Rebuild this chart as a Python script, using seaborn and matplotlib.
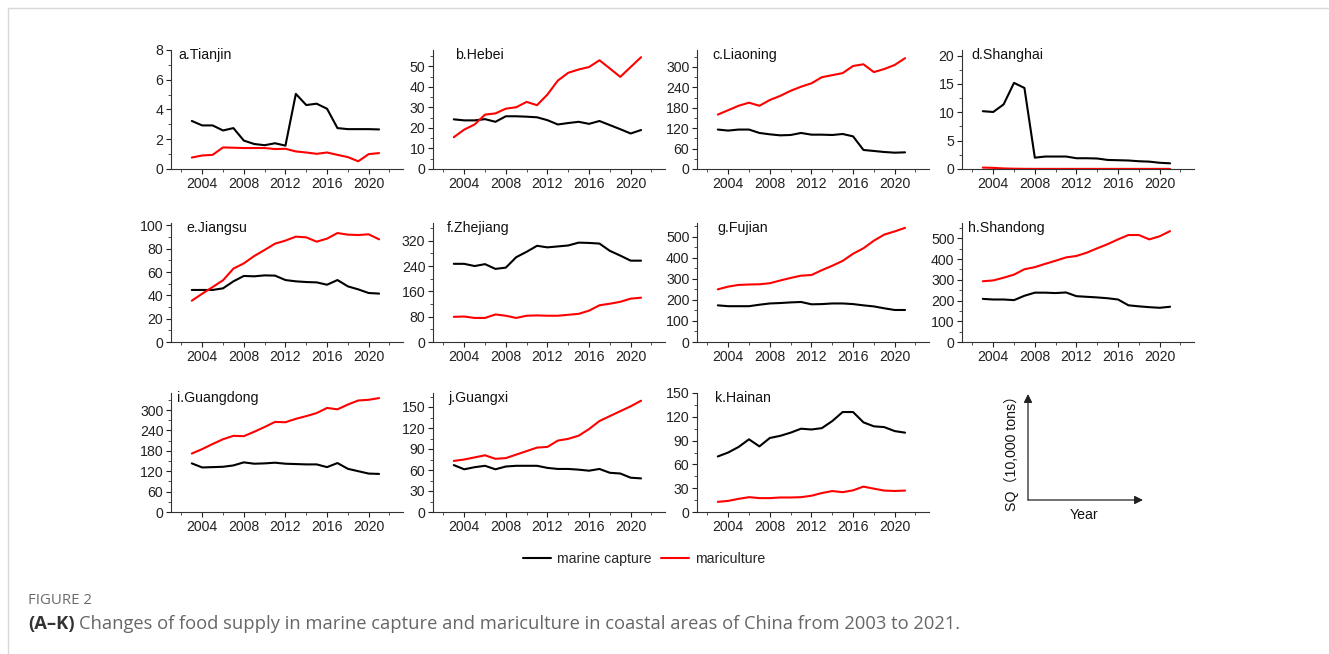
import numpy as np
import pandas as pd
import matplotlib
matplotlib.use("Agg")
import matplotlib.pyplot as plt
from matplotlib.lines import Line2D
import seaborn as sns

years = list(range(2003, 2022))

tianjin_cap = [3.23, 2.93, 2.93, 2.59, 2.75, 1.91, 1.68, 1.60, 1.73, 1.57, 5.05, 4.30, 4.39, 4.05, 2.75, 2.68, 2.68, 2.68, 2.66]
tianjin_mar = [0.77, 0.91, 0.95, 1.45, 1.43, 1.41, 1.41, 1.41, 1.34, 1.36, 1.18, 1.11, 1.02, 1.11, 0.95, 0.80, 0.52, 1.00, 1.07]
hebei_cap = [24.2, 23.7, 23.7, 24.3, 23.0, 25.7, 25.7, 25.5, 25.2, 23.8, 21.7, 22.4, 23.0, 22.0, 23.4, 21.4, 19.4, 17.3, 19.0]
hebei_mar = [15.5, 19.2, 21.7, 26.5, 27.1, 29.4, 30.1, 32.7, 31.1, 36.3, 43.1, 46.9, 48.5, 49.7, 53.0, 49.0, 44.9, 49.7, 54.5]
liaoning_cap = [116, 113, 116, 116, 106, 102, 99, 100, 106, 101, 101, 100, 103, 96, 56, 53, 50, 48, 49]
liaoning_mar = [160, 173, 186, 195, 186, 203, 215, 230, 242, 252, 270, 276, 282, 303, 308, 285, 294, 306, 326]
shanghai_cap = [10.2, 10.06, 11.4, 15.2, 14.3, 2.0, 2.2, 2.2, 2.2, 1.9, 1.9, 1.85, 1.6, 1.55, 1.5, 1.37, 1.3, 1.1, 1.0]
shanghai_mar = [0.25, 0.2, 0.1, 0.05, 0.03, 0.02, 0.02, 0.02, 0.02, 0.02, 0.02, 0.02, 0.02, 0.02, 0.02, 0.02, 0.02, 0.02, 0.02]
jiangsu_cap = [44.6, 44.6, 44.6, 46.0, 52.0, 56.6, 56.3, 57.1, 56.9, 53.1, 52.0, 51.4, 51.1, 49.1, 53.1, 47.7, 45.1, 42.0, 41.5]
jiangsu_mar = [35.4, 41.4, 47.1, 52.9, 62.9, 67.4, 73.7, 78.9, 84.3, 86.9, 90.3, 89.7, 86.0, 88.6, 93.4, 92.0, 91.7, 92.3, 88.0]
zhejiang_cap = [247, 247, 240, 246, 231, 235, 268, 285, 304, 299, 302, 305, 314, 313, 311, 288, 273, 257, 257]
zhejiang_mar = [79.5, 80.5, 76, 76, 87, 83, 76, 83, 84, 83, 83, 86, 89, 99, 116, 121, 127, 137, 140]
fujian_cap = [174, 170, 170, 170, 177, 183, 185, 188, 190, 179, 180, 183, 183, 180, 174, 169, 160, 152, 152]
fujian_mar = [250, 263, 271, 273, 274, 279, 292, 304, 315, 318, 341, 362, 385, 419, 445, 481, 510, 525, 542]
shandong_cap = [208, 205, 205, 202, 223, 238, 238, 236, 239, 221, 218, 215, 211, 205, 177, 172, 168, 165, 170]
shandong_mar = [293, 297, 310, 325, 351, 361, 377, 392, 408, 415, 431, 452, 472, 495, 516, 516, 495, 510, 535]
guangdong_cap = [143, 131, 132, 133, 137, 146, 142, 143, 145, 142, 141, 140, 140, 132, 144, 127, 120, 113, 112]
guangdong_mar = [172, 185, 200, 214, 224, 223, 236, 250, 265, 264, 274, 282, 291, 306, 302, 316, 328, 330, 335]
guangxi_cap = [67, 61, 64, 66, 61, 65, 66, 66, 66, 63, 61.5, 61.5, 60.5, 59, 61.5, 56, 55, 49, 48]
guangxi_mar = [73, 75, 78, 81, 76, 77, 82, 87, 92, 93, 102, 104.5, 109, 118.5, 130, 137, 144, 151, 159]
hainan_cap = [70, 75, 82, 91.6, 82.7, 93.3, 96, 100, 105, 104, 105.7, 114.6, 126, 126, 113, 108, 107, 102, 100]
hainan_mar = [12.8, 14, 16.6, 18.7, 17.5, 17.5, 18.3, 18.3, 18.7, 20.5, 23.9, 26.4, 25, 27.3, 32, 29.4, 27, 26.5, 27]

panel_titles = ["a.Tianjin", "b.Hebei", "c.Liaoning", "d.Shanghai", "e.Jiangsu", "f.Zhejiang",
                "g.Fujian", "h.Shandong", "i.Guangdong", "j.Guangxi", "k.Hainan"]
capture = [tianjin_cap, hebei_cap, liaoning_cap, shanghai_cap, jiangsu_cap, zhejiang_cap,
           fujian_cap, shandong_cap, guangdong_cap, guangxi_cap, hainan_cap]
mariculture = [tianjin_mar, hebei_mar, liaoning_mar, shanghai_mar, jiangsu_mar, zhejiang_mar,
               fujian_mar, shandong_mar, guangdong_mar, guangxi_mar, hainan_mar]
y_tops = [8, 58, 350, 21, 102, 376, 565, 574, 350, 170, 150]
y_steps = [2, 10, 60, 5, 20, 80, 100, 100, 60, 30, 30]
series_names = ["marine capture", "mariculture"]
x_ticks = [2004, 2008, 2012, 2016, 2020]
title_x = [0.03, 0.095, 0.065, 0.04, 0.065, 0.06, 0.086, 0.026, 0.026, 0.065, 0.077]

sns.set_style("ticks")
plt.rcParams["font.family"] = ["Liberation Sans", "Noto Sans CJK SC", "DejaVu Sans"]

W, H = 1329, 654
fig = plt.figure(figsize=(W / 100, H / 100), dpi=100)
fig.patch.set_facecolor("white")

col_left = [171, 433, 697, 962]
row_bottom = [169, 342, 512]
ax_w, ax_h = 232, 119
FS = 10.2
palette = {"marine capture": "black", "mariculture": "#ff0000"}

for i, title in enumerate(panel_titles):
    r, c = divmod(i, 4)
    ax = fig.add_axes([col_left[c] / W, 1 - row_bottom[r] / H, ax_w / W, ax_h / H])
    df = pd.DataFrame({
        "year": years * 2,
        "value": capture[i] + mariculture[i],
        "series": [series_names[0]] * len(years) + [series_names[1]] * len(years),
    })
    sns.lineplot(data=df, x="year", y="value", hue="series", palette=palette,
                 ax=ax, legend=False, linewidth=1.5)
    ax.set_xlim(2001, 2023.3)
    ax.set_ylim(0, y_tops[i])
    ax.set_xticks(x_ticks)
    ax.set_xticks(np.arange(2002, 2024, 2), minor=True)
    st = y_steps[i]
    ax.set_yticks(np.arange(0, y_tops[i] + 0.001, st))
    ax.set_yticks(np.arange(0, y_tops[i] + 0.001, st / 2), minor=True)
    ax.set_xlabel("")
    ax.set_ylabel("")
    for s in ["top", "right"]:
        ax.spines[s].set_visible(False)
    for s in ["left", "bottom"]:
        ax.spines[s].set_linewidth(0.8)
        ax.spines[s].set_color("#333333")
    ax.tick_params(which="major", length=3.5, width=0.8, labelsize=FS, colors="#222222", pad=2)
    ax.tick_params(which="minor", length=2, width=0.6, colors="#333333")
    ax.set_facecolor("none")
    ax.text(title_x[i], 0.96, title, transform=ax.transAxes, ha="left", va="center",
            fontsize=FS, color="#111111")

# legend
handles = [Line2D([0], [0], color="black", lw=1.5), Line2D([0], [0], color="#ff0000", lw=1.5)]
fig.legend(handles, series_names, loc="center", bbox_to_anchor=(644 / W, 1 - 559 / H),
           ncol=2, frameon=False, fontsize=FS, handlelength=2.0, handletextpad=0.4,
           columnspacing=0.7)

# schematic axes (SQ vs Year)
ox, oy = 1028, 500
fig.add_artist(matplotlib.patches.FancyArrowPatch((ox / W, 1 - oy / H), (ox / W, 1 - 394 / H),
               transform=fig.transFigure, arrowstyle="-|>,head_length=5,head_width=2.5",
               color="#222222", lw=0.9, mutation_scale=1, shrinkA=0, shrinkB=0))
fig.add_artist(matplotlib.patches.FancyArrowPatch((ox / W, 1 - oy / H), (1143 / W, 1 - oy / H),
               transform=fig.transFigure, arrowstyle="-|>,head_length=5,head_width=2.5",
               color="#222222", lw=0.9, mutation_scale=1, shrinkA=0, shrinkB=0))
fig.text(1011 / W, 1 - 450 / H, "SQ（10,000 tons）", rotation=90, ha="center", va="center",
         fontsize=FS, color="#111111")
fig.text(1084 / W, 1 - 515 / H, "Year", ha="center", va="center", fontsize=FS, color="#111111")

# caption
fig.text(28 / W, 1 - 600 / H, "FIGURE 2", ha="left", va="center", fontsize=10.8,
         color="#6b6b6b", family=["Open Sans", "DejaVu Sans"])
t1 = fig.text(28 / W, 1 - 624 / H, "(A–K)", ha="left", va="center", fontsize=13.2,
              color="#333333", fontweight="bold", family=["Open Sans", "DejaVu Sans"])
fig.canvas.draw()
bb = t1.get_window_extent()
fig.text((bb.x1 + 4) / W, 1 - 624 / H,
         "Changes of food supply in marine capture and mariculture in coastal areas of China from 2003 to 2021.",
         ha="left", va="center", fontsize=13.2, color="#666666", family=["Open Sans", "DejaVu Sans"])

# page frame
fig.add_artist(Line2D([8 / W, 1], [1 - 8 / H, 1 - 8 / H], transform=fig.transFigure,
                      color="#d8d8d8", lw=1))
fig.add_artist(Line2D([8 / W, 8 / W], [0, 1 - 8 / H], transform=fig.transFigure,
                      color="#d8d8d8", lw=1))

fig.savefig("out.png", dpi=100)
